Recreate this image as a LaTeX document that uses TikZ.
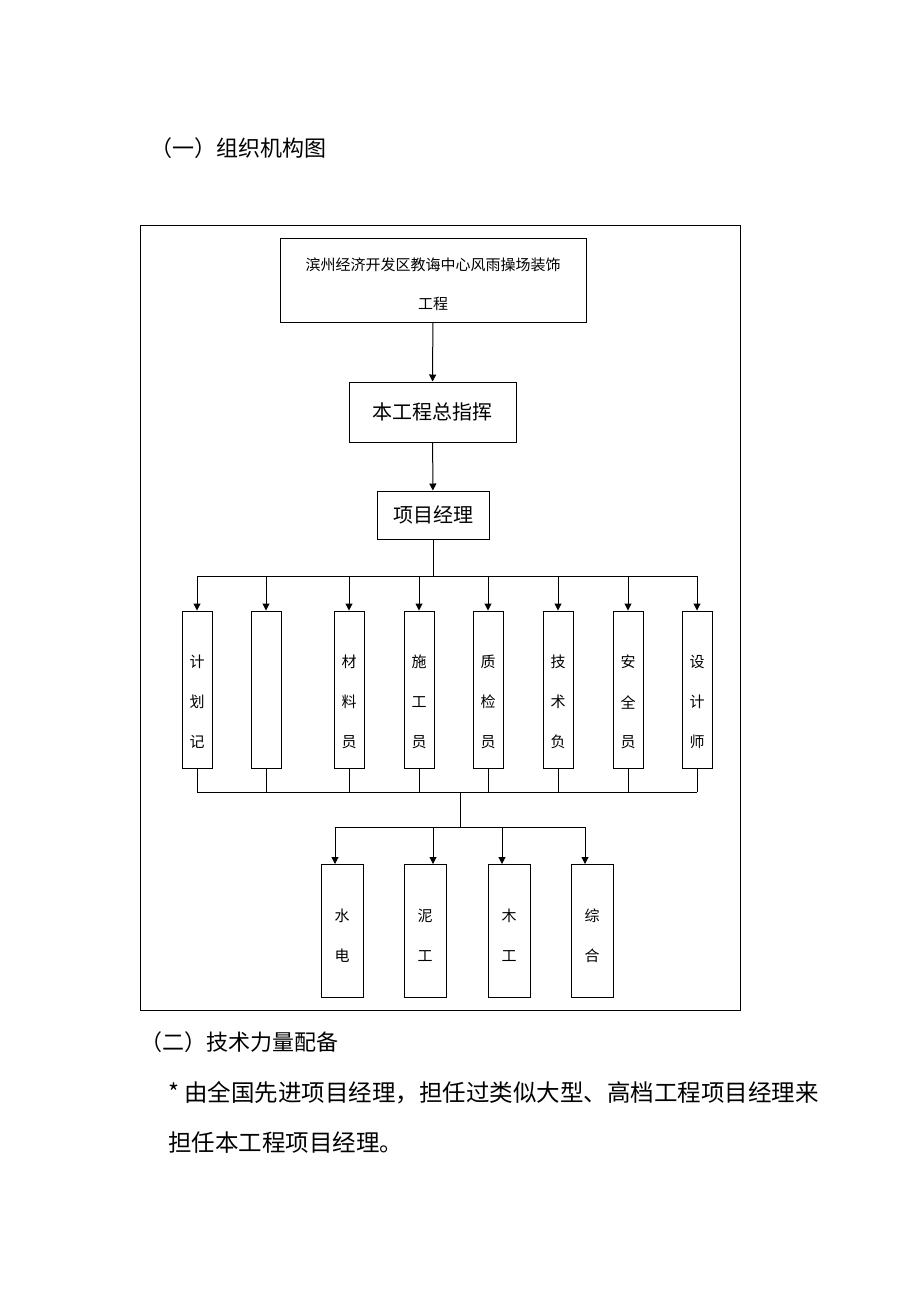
\documentclass[tikz,border=0pt]{standalone}
\usepackage{fontspec}
\newfontfamily\cjk{Noto Sans CJK SC}
\usetikzlibrary{arrows.meta}
\begin{document}
\begin{tikzpicture}[x=1pt,y=-1pt,
  box/.style={draw,line width=1pt,inner sep=0pt},
  arr/.style={line width=1pt,-{Triangle[length=7pt,width=7pt]}},
  ln/.style={line width=1pt},
  t/.style={font=\cjk\fontsize{15}{15}\selectfont,inner sep=0pt},
  h/.style={font=\cjk\fontsize{22}{22}\selectfont,inner sep=0pt,anchor=west}]
\useasboundingbox (0,0) rectangle (920,1302);
\node[h] (h1) at (150,148) {（一）组织机构图};
\node[h] (h2) at (140,1042) {（二）技术力量配备};
\node[h,font=\cjk\fontsize{23.5}{23.5}\selectfont] (p1) at (168,1093) {*\ 由全国先进项目经理，担任过类似大型、高档工程项目经理来};
\node[h,font=\cjk\fontsize{23.5}{23.5}\selectfont] (p2) at (168,1143) {担任本工程项目经理。};
\draw[ln] (140,225) rectangle (740,1010);
\node[box,minimum width=306pt,minimum height=84pt] (top) at (433,280) {};
\node[t] (tl1) at (433,265) {滨州经济开发区教诲中心风雨操场装饰};
\node[t] (tl2) at (433,304) {工程};
\node[box,minimum width=167pt,minimum height=60pt,font=\cjk\fontsize{20}{20}\selectfont] (b2) at (432.5,412) {本工程总指挥};
\node[box,minimum width=112pt,minimum height=48pt,font=\cjk\fontsize{20}{20}\selectfont] (b3) at (433,515) {项目经理};
\draw[arr] (top) -- (b2);
\draw[arr] (b2) -- (b3);
\coordinate (bus) at (433,576);
\draw[ln] (b3) -- (bus);
\draw[ln] (197,576) -- (697,576);
\coordinate (bus2) at (460,792);
\draw[ln] (197,792) -- (697,792);
\foreach \x/\n/\a/\b/\c in {197/k1/计/划/记,266/k2/{}/{}/{},349/k3/材/料/员,419/k4/施/工/员,488/k5/质/检/员,558/k6/技/术/负,628/k7/安/全/员,697/k8/设/计/师}{
  \node[box,minimum width=30pt,minimum height=157pt] (\n) at (\x,689.5) {};
  \node[t] at (\x,662) {\a};
  \node[t] at (\x,702) {\b};
  \node[t] at (\x,742) {\c};
  \coordinate (\n t) at (\x,576);
  \draw[arr] (\n t) -- (\n.north);
  \coordinate (\n b) at (\x,792);
  \draw[ln] (\n.south) -- (\n b);
}
\coordinate (bus3) at (460,827);
\draw[ln] (bus2) -- (bus3);
\draw[ln] (335,827) -- (585,827);
\foreach \cx/\ax/\n/\a/\b in {342/335/w1/水/电,425/433/w2/泥/工,509/502/w3/木/工,592/585/w4/综/合}{
  \node[box,minimum width=42pt,minimum height=133pt] (\n) at (\cx,930.5) {};
  \node[t] at (\cx,916) {\a};
  \node[t] at (\cx,956) {\b};
  \coordinate (\n a) at (\ax,827);
  \draw[arr] (\n a) -- (\ax,864);
}
\end{tikzpicture}
\end{document}
